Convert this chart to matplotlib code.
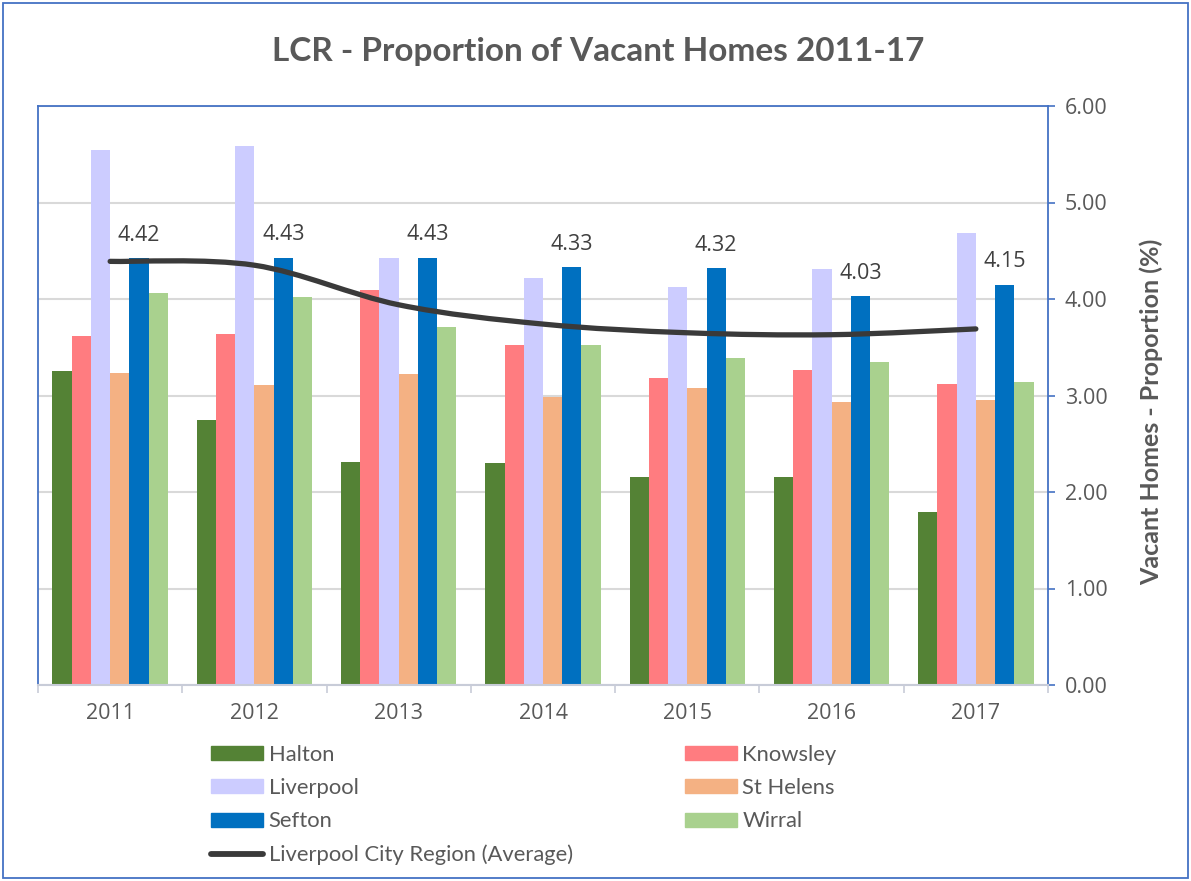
import matplotlib
matplotlib.use("Agg")
import matplotlib.pyplot as plt
import numpy as np
from matplotlib.path import Path
from matplotlib.patches import PathPatch, Rectangle
from matplotlib.lines import Line2D
from matplotlib.patches import Patch

years = ["2011", "2012", "2013", "2014", "2015", "2016", "2017"]
halton = [3.25, 2.75, 2.31, 2.30, 2.16, 2.16, 1.79]
knowsley = [3.62, 3.64, 4.09, 3.52, 3.18, 3.26, 3.12]
liverpool = [5.54, 5.59, 4.43, 4.22, 4.12, 4.31, 4.68]
st_helens = [3.23, 3.11, 3.22, 2.98, 3.08, 2.93, 2.95]
sefton = [4.42, 4.43, 4.43, 4.33, 4.32, 4.03, 4.15]
wirral = [4.06, 4.02, 3.71, 3.52, 3.39, 3.35, 3.14]
lcr_average = [4.39, 4.35, 3.94, 3.74, 3.65, 3.63, 3.69]

series_names = ["Halton", "Knowsley", "Liverpool", "St Helens", "Sefton", "Wirral"]
series_vals = [halton, knowsley, liverpool, st_helens, sefton, wirral]
colors = ["#548235", "#FF7C80", "#CCCCFF", "#F4B183", "#0070C0", "#A9D18E"]
line_color = "#3A3A3A"
text_color = "#595959"
blue = "#4472C4"

W, H = 1191, 881
fig = plt.figure(figsize=(W / 100, H / 100), dpi=100)
ax = fig.add_axes([38 / W, 1 - 685 / H, (1048 - 38) / W, (685 - 106) / H])

x = np.arange(len(years))
group = 0.8
bw = group / len(series_names)
for i, (name, vals, c) in enumerate(zip(series_names, series_vals, colors)):
    xs = x - group / 2 + bw * (i + 0.5)
    ax.bar(xs, vals, width=bw, color=c, edgecolor="none", zorder=2)
    if name == "Sefton":
        for xi, v in zip(xs, vals):
            ax.annotate(f"{v:.2f}", (xi, v), xytext=(0, 16.5), textcoords="offset points",
                        ha="center", va="center", fontsize=15.5, color="#404040",
                        family="Open Sans", zorder=5)

# smoothed line (Catmull-Rom -> Bezier)
pts = np.column_stack([x, lcr_average]).astype(float)
verts = [tuple(pts[0])]
codes = [Path.MOVETO]
n = len(pts)
for k in range(n - 1):
    p0 = pts[k - 1] if k > 0 else pts[k]
    p1 = pts[k]
    p2 = pts[k + 1]
    p3 = pts[k + 2] if k + 2 < n else pts[k + 1]
    c1 = p1 + (p2 - p0) / 6
    c2 = p2 - (p3 - p1) / 6
    verts += [tuple(c1), tuple(c2), tuple(p2)]
    codes += [Path.CURVE4] * 3
ax.add_patch(PathPatch(Path(verts, codes), facecolor="none", edgecolor=line_color,
                       lw=3.8, capstyle="round", joinstyle="round", zorder=4))

ax.set_xlim(-0.5, len(years) - 0.5)
ax.set_ylim(0, 6)
ax.set_yticks(np.arange(0, 6.01, 1))
ax.set_yticklabels([f"{v:.2f}" for v in np.arange(0, 6.01, 1)], family="Open Sans",
                   fontsize=15.5, color=text_color)
ax.yaxis.tick_right()
ax.tick_params(axis="y", which="both", direction="out", length=5, width=1.2, color=blue, pad=7)
ax.grid(axis="y", color="#D9D9D9", lw=1.5, zorder=0)
ax.set_axisbelow(True)

ax.set_xticks(x)
ax.set_xticklabels(years, family="Open Sans", fontsize=15.5, color=text_color)
ax.set_xticks(np.arange(-0.5, len(years), 1), minor=True)
ax.tick_params(axis="x", which="major", length=0, pad=13)
ax.tick_params(axis="x", which="minor", length=6, color="#C8CCD8", width=1.2)

for s in ["left", "right", "top"]:
    ax.spines[s].set_color(blue)
    ax.spines[s].set_linewidth(1.3)
ax.spines["bottom"].set_color("#C8CCD8")
ax.spines["bottom"].set_linewidth(1.5)

fig.text(1151 / W, 1 - 412 / H, "Vacant Homes - Proportion (%)", rotation=90,
         ha="center", va="center", family="Lato", fontweight="bold",
         fontsize=18, color=text_color)

fig.text(0.502, 1 - 52 / H, "LCR - Proportion of Vacant Homes 2011-17", ha="center", va="center",
         family="Lato", fontweight="bold", fontsize=24, color=text_color)

handles = [Patch(color=colors[0]), Patch(color=colors[2]), Patch(color=colors[4]),
           Line2D([0], [0], color=line_color, lw=4.2, solid_capstyle="round"),
           Patch(color=colors[1]), Patch(color=colors[3]), Patch(color=colors[5])]
labels = ["Halton", "Liverpool", "Sefton", "Liverpool City Region (Average)",
          "Knowsley", "St Helens", "Wirral"]
fig.legend(handles, labels, ncol=2, loc="upper left", bbox_to_anchor=(211 / W, 1 - 745 / H),
           frameon=False, prop={"family": "Lato", "size": 15.8}, labelcolor=text_color,
           handlelength=2.36, handleheight=0.6, handletextpad=0.27, labelspacing=0.6,
           columnspacing=5.1, borderpad=0, borderaxespad=0)

fig.add_artist(Rectangle((3 / W, 3 / H), (W - 6) / W, (H - 6) / H, transform=fig.transFigure,
                         fill=False, edgecolor=blue, lw=1.3))

fig.savefig("out.png", dpi=100)
